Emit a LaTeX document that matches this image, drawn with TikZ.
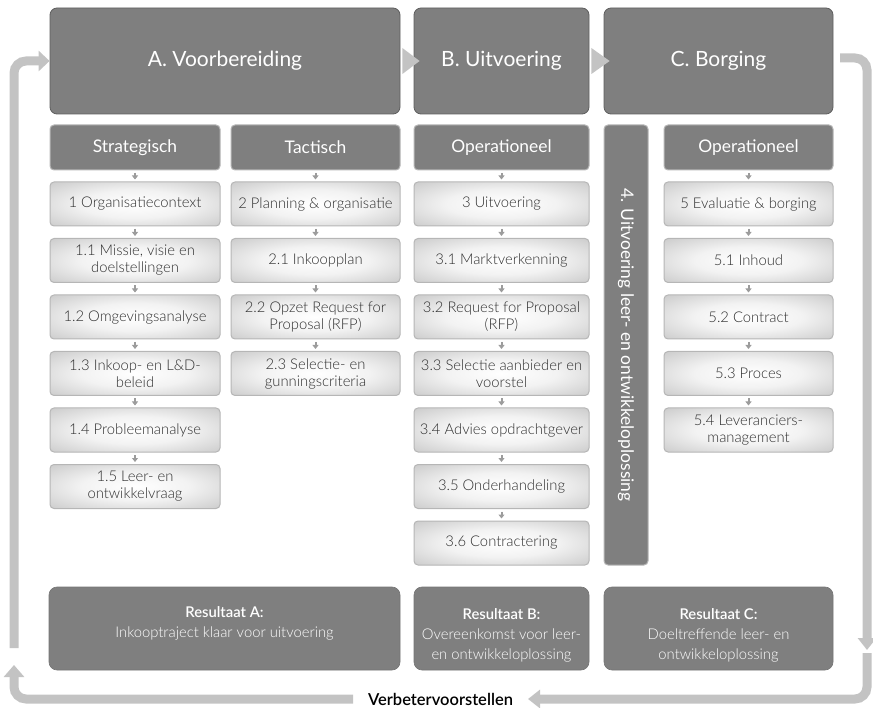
\documentclass[tikz,border=0pt]{standalone}
\usepackage{fontspec}
\setmainfont{Lato}
\newfontfamily\latolight{Lato Light}
\newfontfamily\latomed{Lato Semibold}
\usetikzlibrary{arrows.meta}
\definecolor{hdr}{HTML}{7F7F7F}
\definecolor{hdrline}{HTML}{5E5E5E}
\definecolor{loopc}{HTML}{C3C3C3}
\definecolor{itemline}{HTML}{B6B6B6}
\definecolor{itemtext}{HTML}{2E2E2E}
\definecolor{sarrow}{HTML}{9C9C9C}
\pgfdeclareradialshading{itemshade}{\pgfpoint{0bp}{0bp}}{color(0bp)=(white); color(16bp)=(white!95!black); color(34bp)=(white!81!black); color(50bp)=(white!74!black)}
\tikzset{
 phase/.style={draw=hdrline, line width=0.8pt, fill=hdr, rounded corners=7pt, text=white, font=\fontsize{21}{24}\selectfont, minimum height=106pt, inner sep=0pt},
 subhdr/.style={draw=itemline, line width=1pt, fill=hdr, rounded corners=4pt, text=white, font=\fontsize{17.4}{20}\selectfont, minimum height=45pt, inner sep=0pt},
 itembox/.style={draw=itemline, line width=1pt, rounded corners=4pt, shade, shading=itemshade, text=itemtext, font=\latolight\fontsize{14.8}{17}\selectfont, minimum height=44pt, inner sep=0pt, align=center},
 result/.style={fill=hdr, draw=hdr!92!black, line width=0.6pt, rounded corners=8pt, text=white, minimum height=83pt, inner sep=0pt, align=center, font=\latolight\fontsize{14.8}{20}\selectfont},
 rtitle/.style={font=\latomed\fontsize{14.8}{20}\selectfont},
 stepar/.style={-{Triangle[width=6pt,length=4pt]}, draw=sarrow, fill=sarrow, line width=2pt, shorten <=2.5pt, shorten >=2pt},
 loopar/.style={draw=loopc, line width=9pt, rounded corners=12pt},
}
\newcommand{\rtit}[1]{\rule{0pt}{24pt}{\latomed #1}}
\begin{document}
\begin{tikzpicture}[x=1pt,y=-1pt]
\useasboundingbox (0,0) rectangle (873,708);
% phases
\node[phase, minimum width=350pt] (A) at (225,61) {A. Voorbereiding};
\node[phase, minimum width=175pt] (B) at (501.5,61) {B. Uitvoering};
\node[phase, minimum width=229pt] (C) at (718.5,61) {C. Borging};
% triangles between phases
\fill[loopc] ([xshift=2pt,yshift=13pt]A.east) -- ([xshift=6pt]B.west) -- ([xshift=2pt,yshift=-13pt]A.east) -- cycle;
\fill[loopc] ([xshift=2pt,yshift=13pt]B.east) -- ([xshift=6pt]C.west) -- ([xshift=2pt,yshift=-13pt]B.east) -- cycle;
% sub headers
\node[subhdr, minimum width=170pt] (s1) at (135,147.5) {Strategisch};
\node[subhdr, minimum width=169pt] (s2) at (315.5,147.5) {Tactisch};
\node[subhdr, minimum width=175pt] (s3) at (501.5,147.5) {Operationeel};
\node[subhdr, minimum width=169pt] (s5) at (748.5,147.5) {Operationeel};
\node[subhdr, rotate=-90, minimum width=440pt, minimum height=44pt] (c4) at (626,345) {4. Uitvoering leer- en ontwikkeloplossing};
% column 1
\node[itembox, minimum width=170pt] (a0) at (135,204) {1 Organisatiecontext};
\node[itembox, minimum width=170pt] (a1) at (135,260.5) {1.1 Missie, visie en\\doelstellingen};
\node[itembox, minimum width=170pt] (a2) at (135,317) {1.2 Omgevingsanalyse};
\node[itembox, minimum width=170pt] (a3) at (135,373.5) {1.3 Inkoop- en L\&D-\\beleid};
\node[itembox, minimum width=170pt] (a4) at (135,430) {1.4 Probleemanalyse};
\node[itembox, minimum width=170pt] (a5) at (135,486.5) {1.5 Leer- en\\ontwikkelvraag};
% column 2
\node[itembox, minimum width=169pt] (b0) at (315.5,204) {2 Planning \& organisatie};
\node[itembox, minimum width=169pt] (b1) at (315.5,260.5) {2.1 Inkoopplan};
\node[itembox, minimum width=169pt] (b2) at (315.5,317) {2.2 Opzet Request for\\Proposal (RFP)};
\node[itembox, minimum width=169pt] (b3) at (315.5,373.5) {2.3 Selectie- en\\gunningscriteria};
% column 3
\node[itembox, minimum width=175pt] (c0) at (501.5,204) {3 Uitvoering};
\node[itembox, minimum width=175pt] (c1) at (501.5,260.5) {3.1 Marktverkenning};
\node[itembox, minimum width=175pt] (c2) at (501.5,317) {3.2 Request for Proposal\\(RFP)};
\node[itembox, minimum width=175pt] (c3) at (501.5,373.5) {3.3 Selectie aanbieder en\\voorstel};
\node[itembox, minimum width=175pt] (c5x) at (501.5,430) {3.4 Advies opdrachtgever};
\node[itembox, minimum width=175pt] (c6x) at (501.5,486.5) {3.5 Onderhandeling};
\node[itembox, minimum width=175pt] (c7x) at (501.5,543) {3.6 Contractering};
% column 5
\node[itembox, minimum width=169pt] (e0) at (748.5,204) {5 Evaluatie \& borging};
\node[itembox, minimum width=169pt] (e1) at (748.5,260.5) {5.1 Inhoud};
\node[itembox, minimum width=169pt] (e2) at (748.5,317) {5.2 Contract};
\node[itembox, minimum width=169pt] (e3) at (748.5,373.5) {5.3 Proces};
\node[itembox, minimum width=169pt] (e4) at (748.5,430) {5.4 Leveranciers-\\management};
% small arrows
\foreach \p/\q in {s1/a0,a0/a1,a1/a2,a2/a3,a3/a4,a4/a5,s2/b0,b0/b1,b1/b2,b2/b3,s3/c0,c0/c1,c1/c2,c2/c3,c3/c5x,c5x/c6x,c6x/c7x,s5/e0,e0/e1,e1/e2,e2/e3,e3/e4}
  \draw[stepar] (\p) -- (\q);
% results
\node[result, minimum width=351pt] (rA) at (224.5,628.5) {\rtit{Resultaat A:}\\Inkooptraject klaar voor uitvoering\\\strut};
\node[result, minimum width=175pt] (rB) at (501.5,628.5) {\rtit{Resultaat B:}\\Overeenkomst voor leer-\\en ontwikkeloplossing};
\node[result, minimum width=229pt] (rC) at (718.5,628.5) {\rtit{Resultaat C:}\\Doeltreffende leer- en\\ontwikkeloplossing};
% loop arrows
\coordinate (lt0) at (14,648);
\draw[loopar, -{Triangle[width=20pt,length=11pt]}] (lt0) |- (A.west);
\coordinate (rt0) at (840,58);
\coordinate (rt1) at (867,650);
\draw[loopar, -{Triangle[width=18pt,length=12pt]}] (rt0) -| (rt1);
\coordinate (br0) at (867,653);
\coordinate (br1) at (528,699);
\draw[loopar, -{Triangle[width=18pt,length=12pt]}] (br0) |- (br1);
\coordinate (bl0) at (353,699);
\coordinate (bl1) at (14,665);
\draw[loopar, -{Triangle[width=20pt,length=12pt]}] (bl0) -| (bl1);
\node[font=\latomed\fontsize{16.5}{18}\selectfont, text=black, inner sep=0pt] (vv) at (440.5,699) {Verbetervoorstellen};
\end{tikzpicture}
\end{document}
